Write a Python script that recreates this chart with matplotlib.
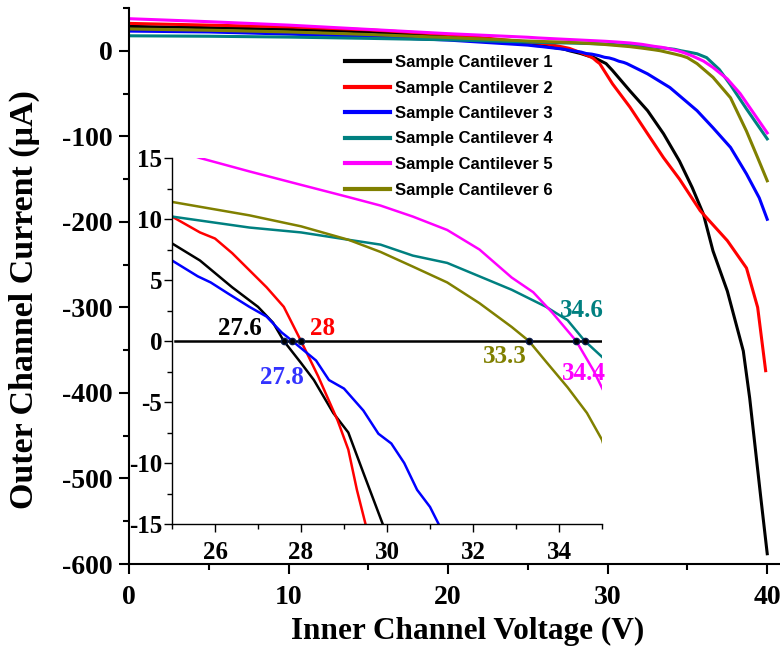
import matplotlib
matplotlib.use("Agg")
import matplotlib.pyplot as plt
from matplotlib.ticker import MultipleLocator

plt.rcParams['font.family'] = 'Liberation Serif'
plt.rcParams['font.weight'] = 'bold'
plt.rcParams['axes.unicode_minus'] = False

# I-V sweeps of the six cantilevers (inner voltage in V, outer current in uA)
v1 = [0, 5, 10, 15, 20, 25.0, 25.65, 26.4, 27.0, 27.35, 27.6, 28.0, 28.3, 28.75, 29.1,
      29.45, 29.9, 30.3, 31.4, 32.5, 33.5, 34.5, 35.3, 36.0, 36.6, 37.5, 38.5, 38.9, 39.6, 40.0]
i1 = [28.5, 27, 25, 22, 17, 8.0, 6.6, 4.4, 2.8, 1.5, 0, -1.8, -3.2, -5.9, -7.5,
      -10.8, -15, -23, -47, -70, -97, -129, -160, -191, -234, -281, -351, -406, -523, -588]

v2 = [0, 5, 10, 15, 20, 25.0, 25.65, 26.0, 26.4, 26.8, 27.2, 27.6, 28.0, 28.4, 28.85,
      29.1, 29.3, 29.5, 30.3, 31.4, 32.5, 33.5, 34.5, 35.8, 37.5, 38.7, 39.4, 39.9]
i2 = [32, 30, 28, 24.5, 19, 10.2, 8.9, 8.4, 7.2, 5.8, 4.4, 2.8, 0, -2.9, -6.5,
      -8.9, -12.2, -15, -38.6, -66, -97, -125, -150, -187, -222, -254, -300, -374]

v3 = [0, 5, 10, 15, 20, 25.0, 25.6, 25.9, 26.3, 26.8, 27.2, 27.55, 27.8, 28.35, 28.65,
      29.0, 29.45, 29.8, 30.1, 30.4, 30.7, 31.0, 31.2, 32.5, 33.9, 35.6, 36.6, 37.7,
      38.7, 39.5, 40.0]
i3 = [23, 22, 19.5, 16.5, 12.5, 6.6, 5.3, 4.8, 3.9, 2.8, 2.0, 0.7, 0, -1.6, -3.2,
      -3.9, -5.7, -7.6, -8.4, -10.0, -12.2, -13.6, -15, -27, -43, -70, -90, -113,
      -144, -172, -197]

v4 = [0, 5, 10, 15, 20, 25.0, 26.8, 28.0, 29.1, 29.85, 30.6, 31.4, 32.15, 32.9, 33.7,
      34.2, 34.6, 35.0, 35.6, 36.2, 37.0, 37.7, 38.7, 40.0]
i4 = [17.5, 17, 16, 14.5, 12.8, 10.2, 9.3, 8.9, 8.3, 7.9, 7.0, 6.4, 5.3, 4.2, 2.8,
      1.7, 0, -1.3, -3.5, -8, -22, -40, -68, -103]

v5 = [0, 5, 10, 15, 20, 25.0, 25.65, 26.8, 28.0, 29.1, 29.85, 30.6, 31.4, 32.15, 32.9,
      33.4, 33.85, 34.4, 34.8, 35.3, 36.0, 36.6, 37.5, 38.3, 40.0]
i5 = [37.5, 34, 30, 25, 20, 15.8, 15, 13.9, 12.8, 11.8, 11.1, 10.2, 9.1, 7.5, 5.2,
      4.0, 2.3, 0, -2.4, -6, -12, -19.5, -33, -50, -96]

v6 = [0, 5, 10, 15, 20, 25.0, 26.8, 28.0, 29.1, 29.85, 30.6, 31.4, 32.15, 32.9, 33.3,
      33.7, 34.2, 34.65, 35.0, 35.6, 36.6, 37.7, 38.7, 39.4, 40.0]
i6 = [25.5, 24, 22, 19, 15.5, 11.4, 10.3, 9.4, 8.3, 7.3, 6.1, 4.8, 3.1, 1.15, 0,
      -1.7, -3.8, -5.9, -8.1, -15, -31, -55, -94, -125, -152]

labels = ['Sample Cantilever 1', 'Sample Cantilever 2', 'Sample Cantilever 3',
          'Sample Cantilever 4', 'Sample Cantilever 5', 'Sample Cantilever 6']
colors = ['black', '#ff0000', '#0000ff', '#008080', '#ff00ff', '#808000']
volts = [v1, v2, v3, v4, v5, v6]
currents = [i1, i2, i3, i4, i5, i6]

# zero-current crossing voltages and where their labels go
cross_v = [27.6, 28.0, 27.8, 34.6, 34.4, 33.3]
cross_txt = ['27.6', '28', '27.8', '34.6', '34.4', '33.3']
cross_col = ['black', '#ff0000', '#3333ff', '#008080', '#ff00ff', '#808000']
txt_x = [26.58, 28.51, 27.55, 34.53, 34.58, 32.74]
txt_y = [1.0, 1.0, -3.0, 2.5, -2.7, -1.3]

fig = plt.figure(figsize=(7.8, 6.54), dpi=100)

ax = fig.add_axes([129/780, 90/654, 651/780, 556/654])
for v, i, c, lab in zip(volts, currents, colors, labels):
    ax.plot(v, i, color=c, lw=2.2, label=lab)
ax.set_xlim(0, 40.8)
ax.set_ylim(-600, 50)
ax.xaxis.set_major_locator(MultipleLocator(10))
ax.xaxis.set_minor_locator(MultipleLocator(5))
ax.yaxis.set_major_locator(MultipleLocator(100))
ax.yaxis.set_minor_locator(MultipleLocator(50))
ax.spines['top'].set_visible(False)
ax.spines['right'].set_visible(False)
for s in ['left', 'bottom']:
    ax.spines[s].set_linewidth(1.5)
ax.tick_params(which='major', direction='out', length=7, width=1.5, labelsize=20)
ax.tick_params(which='minor', direction='out', length=4, width=1.5)
ax.tick_params(axis='x', pad=8)
ax.tick_params(axis='y', pad=5)
ax.set_xlabel('Inner Channel Voltage (V)', fontsize=22.5, fontweight='bold')
ax.set_ylabel('Outer Channel Current (\u03bcA)', fontsize=24.5, fontweight='bold')
ax.xaxis.set_label_coords(0.52, -0.095)
ax.yaxis.set_label_coords(-0.137, 0.475)

# zoom on the zero crossings
axin = fig.add_axes([172/780, 130/654, 430/780, 366/654])
axin.patch.set_alpha(0)
for v, i, c in zip(volts, currents, colors):
    axin.plot(v, i, color=c, lw=1.8)
axin.plot([25.07, 35.0], [0, 0], color='black', lw=1.8)
axin.plot(cross_v, [0] * len(cross_v), 'o', ms=4.5, mfc='black', mec='#0a1a4a', mew=1)
for tx, ty, t, c in zip(txt_x, txt_y, cross_txt, cross_col):
    axin.text(tx, ty, t, color=c, fontsize=18, fontweight='bold', ha='center', va='center')
axin.set_xlim(25, 35)
axin.set_ylim(-15, 15)
axin.xaxis.set_minor_locator(MultipleLocator(1))
axin.yaxis.set_major_locator(MultipleLocator(5))
axin.yaxis.set_minor_locator(MultipleLocator(2.5))
axin.set_xticks([26, 28, 30, 32, 34])
axin.spines['top'].set_visible(False)
axin.spines['right'].set_visible(False)
for s in ['left', 'bottom']:
    axin.spines[s].set_linewidth(1)
axin.tick_params(which='major', direction='out', length=6, width=1, labelsize=18)
axin.tick_params(which='minor', direction='out', length=3.5, width=1)
axin.tick_params(axis='x', pad=6)
axin.tick_params(axis='y', pad=1)

handles, _ = ax.get_legend_handles_labels()
leg = fig.legend(handles, labels, loc='upper left', bbox_to_anchor=(345/780, 1 - 55/654),
                 frameon=False, borderpad=0, borderaxespad=0, handlelength=2.7,
                 handletextpad=0.3, labelspacing=0.63,
                 prop={'family': 'Liberation Sans', 'weight': 'bold', 'size': 12})
for h in leg.get_lines():
    h.set_linewidth(3)

fig.savefig('out.png', dpi=100)
